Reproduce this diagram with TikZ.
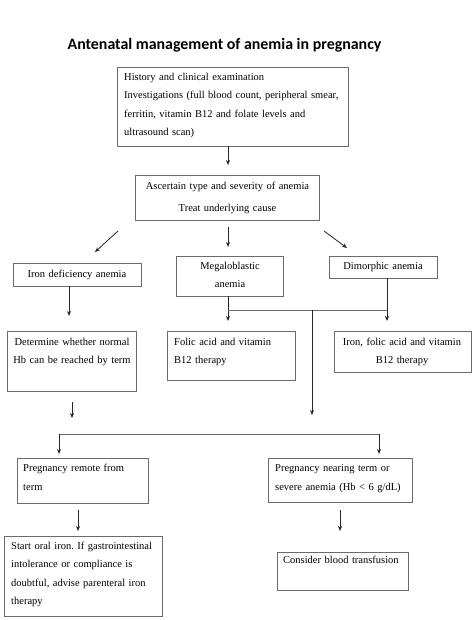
\documentclass[tikz,border=0pt]{standalone}
\usepackage{fontspec}
\setmainfont{Liberation Serif}
\newfontfamily\titlefont{Carlito}
\usetikzlibrary{arrows.meta}
\frenchspacing
\begin{document}
\begin{tikzpicture}[x=1pt,y=-1pt,
  box/.style={draw=black!58, line width=0.9pt, rectangle, inner sep=0pt},
  txt/.style={inner sep=0pt, font=\fontsize{10.5}{18.3}\selectfont},
  ltxt/.style={txt, anchor=base west, align=left, text width=#1},
  ctxt/.style={txt, anchor=base, align=center, text width=#1},
  arr/.style={draw=black!85, line width=0.8pt, -{Stealth[length=5pt,width=4pt]}},
  conn/.style={draw=black!58, line width=0.9pt}]
\useasboundingbox[fill=white] (0,0) rectangle (474,620);

% title
\node[inner sep=0pt, anchor=base, font=\titlefont\bfseries\fontsize{15.9}{18}\selectfont] (title) at (224.5,50) {Antenatal management of anemia in pregnancy};

% boxes
\node[box, minimum width=231, minimum height=79] (b1) at (232.5,106.5) {};
\node[box, minimum width=184, minimum height=45] (b2) at (227,197.5) {};
\node[box, minimum width=128, minimum height=23] (iron) at (77,274.5) {};
\node[box, minimum width=107, minimum height=40] (mega) at (229.5,276) {};
\node[box, minimum width=108, minimum height=22] (dimo) at (383,267) {};
\node[box, minimum width=129, minimum height=60] (det) at (71.5,361) {};
\node[box, minimum width=128, minimum height=49] (folic) at (231,355.5) {};
\node[box, minimum width=137, minimum height=41] (ifolic) at (402.5,351.5) {};
\node[box, minimum width=131, minimum height=45] (remote) at (82.5,480.5) {};
\node[box, minimum width=144, minimum height=44] (near) at (340,480) {};
\node[box, minimum width=158, minimum height=80] (oral) at (83,576) {};
\node[box, minimum width=131, minimum height=38] (blood) at (342.5,571) {};

% texts
\node[ltxt=228] (t1) at (124,80.5) {History and clinical examination\\Investigations (full blood count, peripheral smear,\\ferritin, vitamin B12 and folate levels and\\ultrasound scan)};
\node[ctxt=182, font=\fontsize{10.5}{22}\selectfont] (t2) at (227.5,189.5) {Ascertain type and severity of anemia\\Treat underlying cause};
\node[ctxt=127] (t3) at (77,277) {Iron deficiency anemia};
\node[ctxt=105, font=\fontsize{10.5}{18}\selectfont] (t4) at (230,269.5) {Megaloblastic\\anemia};
\node[ctxt=105] (t5) at (383,269.5) {Dimorphic anemia};
\node[ctxt=128, font=\fontsize{10.5}{18}\selectfont] (t6) at (72,345.5) {Determine whether normal\\Hb can be reached by term};
\node[ltxt=120, font=\fontsize{10.5}{18}\selectfont] (t7) at (174,345.5) {Folic acid and vitamin\\B12 therapy};
\node[ctxt=136, font=\fontsize{10.5}{18}\selectfont] (t8) at (402,345.5) {Iron, folic acid and vitamin\\B12 therapy};
\node[ltxt=125, font=\fontsize{10.5}{18.5}\selectfont] (t9) at (23,471.5) {Pregnancy remote from\\term};
\node[ltxt=140, font=\fontsize{10.5}{18.5}\selectfont] (t10) at (275,471.5) {Pregnancy nearing term or\\severe anemia (Hb < 6 g/dL)};
\node[ltxt=156] (t11) at (11,549.5) {Start oral iron. If gastrointestinal\\intolerance or compliance is\\doubtful, advise parenteral iron\\therapy};
\node[ltxt=125] (t12) at (283,563.5) {Consider blood transfusion};

% connector coordinates
\coordinate (a1) at (228,165);
\coordinate (d1s) at (118,231);
\coordinate (d1e) at (95,252);
\coordinate (m0) at (228,227);
\coordinate (m1) at (228,247);
\coordinate (d2s) at (324,231);
\coordinate (d2e) at (347,248);
\coordinate (i1) at (69,316);
\coordinate (jm) at (228,310);
\coordinate (jd) at (387,310);
\coordinate (jc) at (312,310);
\coordinate (mtip) at (228,321);
\coordinate (dtop) at (387,278);
\coordinate (dtip) at (387,321);
\coordinate (ctip) at (312,415);
\coordinate (e0) at (72,402);
\coordinate (e1) at (72,418);
\coordinate (hl) at (59,434);
\coordinate (hr) at (379,434);
\coordinate (hlt) at (59,454);
\coordinate (hrt) at (379,454);
\coordinate (r0) at (78,510);
\coordinate (r1) at (78,531);
\coordinate (s0) at (340,510);
\coordinate (s1) at (340,531);

% connectors
\draw[arr] (b1.south -| a1) -- (a1);
\draw[arr] (d1s) -- (d1e);
\draw[arr] (m0) -- (m1);
\draw[arr] (d2s) -- (d2e);
\draw[arr] (iron.south -| i1) -- (i1);
\draw[arr] (mega.south -| jm) -- (mtip);
\draw[conn] (jm) -- (jd);
\draw[arr] (dtop) -- (dtip);
\draw[arr] (jc) -- (ctip);
\draw[arr] (e0) -- (e1);
\draw[conn] (hl) -- (hr);
\draw[arr] (hl) -- (hlt);
\draw[arr] (hr) -- (hrt);
\draw[arr] (r0) -- (r1);
\draw[arr] (s0) -- (s1);
\end{tikzpicture}
\end{document}
